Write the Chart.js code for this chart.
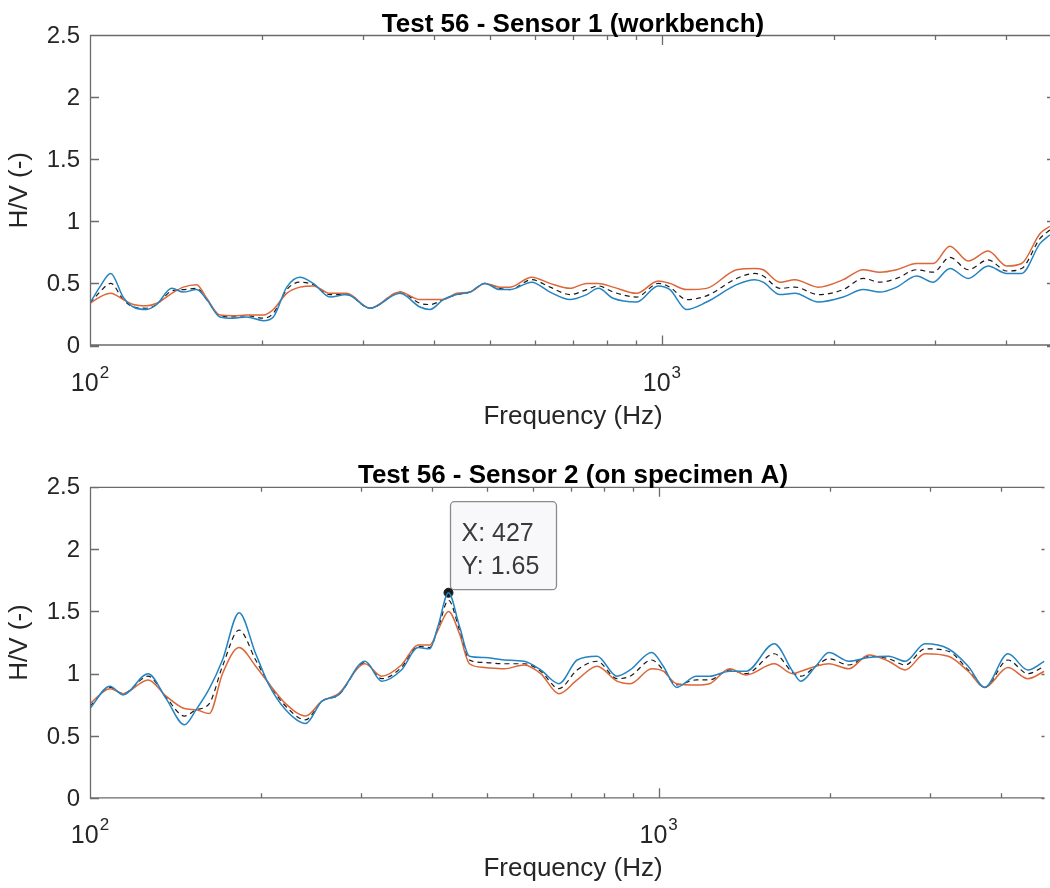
<!DOCTYPE html>
<html>
<head>
<meta charset="utf-8">
<title>Test 56 - H/V spectra</title>
<script src="https://cdn.jsdelivr.net/npm/chart.js@4.4.0/dist/chart.umd.min.js"></script>
<style>
    body { margin: 0; background: #fff; }
    .panel { position: absolute; left: 0; width: 1050px; height: 444px; }
</style>
</head>
<body>
<div class="panel" style="top:0"><canvas id="sensor1Chart" width="1050" height="444"></canvas></div>
<div class="panel" style="top:444px"><canvas id="sensor2Chart" width="1050" height="444"></canvas></div>
<script>
// Sensor 1 (workbench) - frequencies in Hz and H/V ratios
const freqTop = [100, 104, 108.7, 114.3, 119.1, 125.6, 130.8, 139, 145.6, 153.6, 160, 168.8, 178.1, 187.9, 201, 209.2,
    220.8, 232.8, 245.7, 262.8, 281.1, 308.6, 348.3, 377.5, 393, 414.8, 437.7, 461.6, 490.3, 521, 542.5, 591.8,
    637.3, 690.7, 738.6, 773.8, 821.9, 903, 985.2, 1032.7, 1104.4, 1197, 1351, 1454, 1503, 1608, 1708, 1876,
    2075, 2248, 2405, 2573, 2788, 2981, 3188, 3431, 3719, 4006, 4255, 4580, 4768];
const blueTop = [0.34, 0.47, 0.58, 0.39, 0.31, 0.29, 0.33, 0.46, 0.43, 0.45, 0.37, 0.23, 0.22, 0.23, 0.20, 0.23,
    0.47, 0.55, 0.50, 0.39, 0.41, 0.30, 0.42, 0.31, 0.29, 0.37, 0.41, 0.43, 0.50, 0.45, 0.45, 0.51,
    0.43, 0.37, 0.41, 0.46, 0.38, 0.35, 0.48, 0.45, 0.29, 0.35, 0.49, 0.53, 0.51, 0.41, 0.42, 0.35,
    0.39, 0.45, 0.43, 0.47, 0.56, 0.51, 0.62, 0.54, 0.64, 0.58, 0.58, 0.82, 0.89];
const orangeTop = [0.34, 0.39, 0.42, 0.37, 0.33, 0.32, 0.34, 0.42, 0.47, 0.49, 0.38, 0.245, 0.24, 0.245, 0.245, 0.29,
    0.42, 0.47, 0.48, 0.42, 0.42, 0.30, 0.43, 0.37, 0.37, 0.37, 0.42, 0.43, 0.50, 0.47, 0.47, 0.55,
    0.50, 0.46, 0.50, 0.50, 0.47, 0.42, 0.52, 0.50, 0.45, 0.46, 0.61, 0.62, 0.61, 0.51, 0.53, 0.47,
    0.53, 0.61, 0.59, 0.61, 0.66, 0.66, 0.80, 0.68, 0.76, 0.64, 0.66, 0.90, 0.96];
const meanTop = [0.34, 0.43, 0.50, 0.37, 0.31, 0.30, 0.33, 0.44, 0.45, 0.46, 0.37, 0.24, 0.23, 0.24, 0.22, 0.26,
    0.45, 0.51, 0.49, 0.41, 0.41, 0.30, 0.43, 0.34, 0.33, 0.37, 0.41, 0.43, 0.50, 0.46, 0.45, 0.53,
    0.47, 0.41, 0.45, 0.48, 0.43, 0.39, 0.50, 0.47, 0.37, 0.40, 0.54, 0.58, 0.56, 0.46, 0.47, 0.41,
    0.45, 0.54, 0.51, 0.54, 0.61, 0.59, 0.71, 0.61, 0.69, 0.60, 0.62, 0.86, 0.93];

// Sensor 2 (on specimen A)
const freqBottom = [100, 108.4, 114.3, 126.5, 136.1, 146.6, 153.6, 162.1, 171, 182.9, 195.6, 206.4, 220.8, 239.3,
    255.8, 273.6, 304.5, 325.7, 352.9, 377.5, 395.7, 409.2, 427, 446.4, 464.8, 493.6, 535.3, 580.1, 620.3,
    667.8, 718.9, 779.2, 844.6, 891.1, 972.2, 1019, 1075, 1165, 1229, 1333, 1425, 1597, 1720, 1778, 1889,
    1993, 2160, 2341, 2538, 2714, 2941, 3231, 3502, 3745, 4114, 4459, 4768];
const blueBottom = [0.72, 0.90, 0.83, 1.00, 0.80, 0.59, 0.71, 0.88, 1.11, 1.49, 1.16, 0.91, 0.71, 0.60,
    0.78, 0.83, 1.10, 0.94, 1.03, 1.21, 1.20, 1.38, 1.65, 1.38, 1.14, 1.13, 1.11, 1.10, 1.03,
    0.92, 1.11, 1.14, 0.98, 1.03, 1.17, 1.06, 0.89, 0.98, 0.98, 1.02, 1.02, 1.24, 1.02, 0.94, 1.06,
    1.17, 1.10, 1.13, 1.14, 1.10, 1.24, 1.20, 1.06, 0.89, 1.16, 1.03, 1.10];
const orangeBottom = [0.76, 0.88, 0.84, 0.95, 0.82, 0.72, 0.71, 0.68, 1.00, 1.21, 1.06, 0.92, 0.76, 0.66,
    0.78, 0.84, 1.08, 0.98, 1.07, 1.23, 1.23, 1.35, 1.50, 1.32, 1.08, 1.05, 1.04, 1.07, 1.00,
    0.84, 0.95, 1.06, 0.94, 0.92, 1.04, 1.02, 0.92, 0.91, 0.92, 1.04, 0.99, 1.08, 1.00, 1.02, 1.06,
    1.08, 1.04, 1.15, 1.10, 1.03, 1.16, 1.14, 1.02, 0.89, 1.05, 0.96, 1.02];
const meanBottom = [0.74, 0.89, 0.84, 0.98, 0.81, 0.66, 0.71, 0.76, 1.06, 1.35, 1.11, 0.92, 0.74, 0.63,
    0.78, 0.83, 1.09, 0.96, 1.05, 1.22, 1.21, 1.36, 1.59, 1.35, 1.11, 1.09, 1.08, 1.08, 1.02,
    0.88, 1.03, 1.10, 0.96, 0.98, 1.11, 1.03, 0.91, 0.95, 0.95, 1.03, 1.00, 1.16, 1.01, 0.98, 1.06,
    1.12, 1.07, 1.14, 1.12, 1.07, 1.20, 1.18, 1.03, 0.89, 1.11, 1.00, 1.06];

// Axis ticks
const xMin = 100;
const xMax = 4770;
const xMajorTicks = [100, 1000];
const xTickExponents = ['2', '3'];
const xMinorTicks = [200, 300, 400, 500, 600, 700, 800, 900, 2000, 3000, 4000];
const yTicks = [0, 0.5, 1, 1.5, 2, 2.5];
const yTickLabels = ['0', '0.5', '1', '1.5', '2', '2.5'];

// Data tip on the sensor 2 peak
const tipX = 427;
const tipY = 1.65;

const FONT = '"Liberation Sans", Arial, Helvetica, sans-serif';
const TEXT_COLOR = '#262626';
const AXIS_COLOR = '#6b6b6b';
const TITLE_X = 573;

function roundedBox(ctx, x, y, w, h, r) {
    ctx.beginPath();
    ctx.moveTo(x + r, y);
    ctx.arcTo(x + w, y, x + w, y + h, r);
    ctx.arcTo(x + w, y + h, x, y + h, r);
    ctx.arcTo(x, y + h, x, y, r);
    ctx.arcTo(x, y, x + w, y, r);
    ctx.closePath();
}

// Draws MATLAB style box, inward ticks, labels and the data tip
const matlabAxes = {
    id: 'matlabAxes',
    beforeDatasetsDraw(chart, args, opts) {
        if (!opts.showTip) return;
        const ctx = chart.ctx;
        const px = chart.scales.x.getPixelForValue(tipX);
        const py = chart.scales.y.getPixelForValue(tipY);
        ctx.save();
        roundedBox(ctx, px + 2, py - 91, 106, 88, 4);
        ctx.fillStyle = '#f8f8fa';
        ctx.fill();
        ctx.strokeStyle = '#8a8a8a';
        ctx.lineWidth = 1.3;
        ctx.stroke();
        ctx.fillStyle = '#3a3a3a';
        ctx.font = '25px ' + FONT;
        ctx.textAlign = 'left';
        ctx.textBaseline = 'alphabetic';
        ctx.fillText('X: ' + tipX, px + 13, py - 52);
        ctx.fillText('Y: ' + tipY.toFixed(2), px + 13, py - 19);
        ctx.restore();
    },
    afterDatasetsDraw(chart, args, opts) {
        const ctx = chart.ctx;
        const a = chart.chartArea;
        const xs = chart.scales.x;
        const ys = chart.scales.y;
        ctx.save();

        // box (right edge runs off the picture)
        ctx.strokeStyle = AXIS_COLOR;
        ctx.lineWidth = 1.3;
        ctx.beginPath();
        ctx.moveTo(a.right, a.top + 0.5);
        ctx.lineTo(a.left + 0.5, a.top + 0.5);
        ctx.lineTo(a.left + 0.5, a.bottom - 0.5);
        ctx.lineTo(a.right, a.bottom - 0.5);

        xMinorTicks.forEach(v => {
            const px = Math.round(xs.getPixelForValue(v)) + 0.5;
            ctx.moveTo(px, a.bottom); ctx.lineTo(px, a.bottom - 5);
            ctx.moveTo(px, a.top); ctx.lineTo(px, a.top + 5);
        });
        xMajorTicks.forEach(v => {
            const px = Math.round(xs.getPixelForValue(v)) + 0.5;
            ctx.moveTo(px, a.bottom); ctx.lineTo(px, a.bottom - 10);
            ctx.moveTo(px, a.top); ctx.lineTo(px, a.top + 10);
        });
        yTicks.forEach(v => {
            const py = Math.round(ys.getPixelForValue(v)) + 0.5;
            ctx.moveTo(a.left, py); ctx.lineTo(a.left + 9, py);
            ctx.moveTo(a.right, py); ctx.lineTo(a.right - 3, py);
        });
        ctx.stroke();

        // y tick labels
        ctx.fillStyle = TEXT_COLOR;
        ctx.font = '24px ' + FONT;
        ctx.textAlign = 'right';
        ctx.textBaseline = 'middle';
        yTicks.forEach((v, i) => {
            ctx.fillText(yTickLabels[i], a.left - 10, ys.getPixelForValue(v) + 1);
        });

        // x tick labels 10^n
        ctx.textAlign = 'left';
        ctx.textBaseline = 'alphabetic';
        xMajorTicks.forEach((v, i) => {
            const px = xs.getPixelForValue(v);
            ctx.font = '25px ' + FONT;
            const wBase = ctx.measureText('10').width;
            ctx.font = '17px ' + FONT;
            const wExp = ctx.measureText(xTickExponents[i]).width;
            const left = px - (wBase + wExp + 1) / 2;
            ctx.font = '25px ' + FONT;
            ctx.fillText('10', left, a.bottom + 45);
            ctx.font = '17px ' + FONT;
            ctx.fillText(xTickExponents[i], left + wBase + 1, a.bottom + 32);
        });

        // axis titles
        ctx.font = '26px ' + FONT;
        ctx.textAlign = 'center';
        ctx.fillText('Frequency (Hz)', TITLE_X, a.bottom + 78);
        ctx.save();
        ctx.translate(20, (a.top + a.bottom) / 2);
        ctx.rotate(-Math.PI / 2);
        ctx.textBaseline = 'middle';
        ctx.fillText('H/V (-)', 0, 0);
        ctx.restore();

        // panel title
        ctx.fillStyle = '#000';
        ctx.font = 'bold 26px ' + FONT;
        ctx.textAlign = 'center';
        ctx.textBaseline = 'alphabetic';
        ctx.fillText(opts.title, TITLE_X, a.top - 3.5);

        ctx.restore();
    }
};

function toPoints(freq, values) {
    return freq.map((f, i) => ({ x: f, y: values[i] }));
}

function makePanel(canvasId, title, freq, blue, orange, mean, padding, showTip) {
    const datasets = [
        { label: 'H/V 1', data: toPoints(freq, blue), borderColor: '#2484c1', borderWidth: 1.5 },
        { label: 'H/V 2', data: toPoints(freq, orange), borderColor: '#dc6638', borderWidth: 1.5 },
        { label: 'Mean', data: toPoints(freq, mean), borderColor: '#1a1a1a', borderWidth: 1.2, borderDash: [5, 4] }
    ];
    datasets.forEach(ds => {
        ds.pointRadius = 0;
        ds.fill = false;
        ds.cubicInterpolationMode = 'monotone';
    });
    if (showTip) {
        datasets.push({
            label: 'Data tip',
            data: [{ x: tipX, y: tipY }],
            showLine: false,
            pointRadius: 4.5,
            pointBackgroundColor: '#1a1a1a',
            pointBorderColor: '#1a1a1a'
        });
    }

    const ctx = document.getElementById(canvasId).getContext('2d');
    new Chart(ctx, {
        type: 'line',
        data: { datasets: datasets },
        options: {
            responsive: false,
            animation: false,
            devicePixelRatio: 1,
            layout: { padding: padding },
            scales: {
                x: { type: 'logarithmic', min: xMin, max: xMax, display: false },
                y: { type: 'linear', min: 0, max: 2.5, display: false }
            },
            plugins: {
                legend: { display: false },
                tooltip: { enabled: false },
                matlabAxes: { title: title, showTip: showTip }
            }
        },
        plugins: [matlabAxes]
    });
}

makePanel('sensor1Chart', 'Test 56 - Sensor 1 (workbench)', freqTop, blueTop, orangeTop, meanTop,
    { left: 90, right: 0, top: 35, bottom: 98.5 }, false);
makePanel('sensor2Chart', 'Test 56 - Sensor 2 (on specimen A)', freqBottom, blueBottom, orangeBottom, meanBottom,
    { left: 90, right: 0, top: 42.8, bottom: 89.7 }, true);
</script>
</body>
</html>
